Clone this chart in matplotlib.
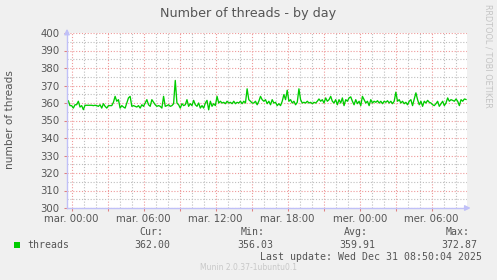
import numpy as np
import matplotlib
matplotlib.use("Agg")
import matplotlib.pyplot as plt
from matplotlib.ticker import MultipleLocator, FixedLocator

# ---- data ----
values = [
    359.6, 361.3, 358.5, 358.5, 357.1, 359.0, 359.0, 361.0, 357.7, 358.5,
    356.2, 358.7, 358.7, 358.7, 358.7, 358.7, 358.5, 358.7, 358.5, 358.1,
    359.0, 357.1, 359.6, 358.1, 357.1, 358.5, 358.5, 358.5, 360.4, 363.8,
    361.0, 361.9, 357.1, 358.5, 357.7, 357.1, 360.0, 362.9, 363.8, 358.1,
    358.5, 358.1, 357.7, 358.5, 357.1, 359.0, 358.1, 360.0, 361.9, 359.0,
    358.1, 361.9, 360.4, 359.0, 358.1, 358.5, 358.1, 357.1, 363.8, 358.1,
    358.5, 359.0, 358.1, 358.5, 359.6, 372.9, 360.0, 359.0, 357.1, 359.6,
    358.5, 359.0, 361.9, 358.1, 359.6, 358.5, 361.5, 359.0, 358.1, 360.0,
    357.1, 358.5, 357.1, 360.0, 361.5, 356.1, 361.0, 358.1, 359.6, 358.5,
    363.8, 360.0, 361.0, 360.0, 360.4, 359.6, 361.0, 360.0, 360.4, 359.6,
    361.0, 359.6, 360.4, 360.0, 361.0, 359.6, 361.0, 360.0, 368.1, 361.9,
    361.0,
    360.0, 360.0, 361.0, 359.0, 361.0, 363.8, 361.9, 361.0, 361.9, 359.6,
    361.0, 359.0, 361.9, 360.0, 360.4, 358.5, 359.6, 358.5, 361.0, 364.8,
    361.9, 367.3, 361.0, 361.9, 360.0, 361.0, 359.0, 360.4, 368.1, 361.9,
    360.0, 360.4, 360.0, 361.0, 360.0, 360.4, 359.6, 360.4, 360.0, 361.0,
    362.3, 361.0, 361.9, 360.0, 362.9, 361.0, 361.9, 363.8, 361.0, 360.0,
    361.9, 359.0, 361.9, 360.0, 362.9, 358.5, 361.9, 361.0, 362.9, 363.5,
    361.0, 359.0, 361.9, 359.6, 361.0, 358.5, 363.8, 361.9, 360.0, 361.0,
    358.5, 361.9, 360.0, 361.0, 360.4, 361.3, 360.0, 361.0, 359.6, 361.0,
    360.4, 361.3, 360.0, 361.0, 359.6, 361.0, 366.2, 361.0, 361.9, 360.0,
    361.0, 359.6, 360.4, 359.0, 361.0, 361.9, 358.5, 362.3, 365.8, 361.9,
    359.0, 361.0, 358.1, 361.0, 360.0, 361.5, 360.4, 360.0, 359.0, 358.5,
    359.6, 361.0, 358.1, 359.6, 361.0, 358.5, 360.0, 362.9, 361.0, 361.9,
    361.5, 361.0, 362.3, 361.0, 358.5, 361.9, 361.0, 362.3, 362.0,
]
t_start_h = -0.42   # hours relative to mar. 00:00
t_end_h = 32.86
x_ticks_h = [0, 3, 6, 9, 12, 15, 18, 21, 24, 27, 30]
x_tick_labels = ["mar. 00:00", "", "mar. 06:00", "", "mar. 12:00", "",
                 "mar. 18:00", "", "mer. 00:00", "", "mer. 06:00"]
y_ticks = [300, 310, 320, 330, 340, 350, 360, 370, 380, 390, 400]
legend_name = "threads"
stats_names = ["Cur:", "Min:", "Avg:", "Max:"]
stats_values = ["362.00", "356.03", "359.91", "372.87"]

hours = np.linspace(t_start_h, t_end_h, len(values))

W, H = 497, 280
fig = plt.figure(figsize=(W / 100, H / 100), dpi=100, facecolor="#F0F0F0")
L, R, T, B = 67, 467, 33, 208
ax = fig.add_axes([L / W, 1 - B / H, (R - L) / W, (B - T) / H])
ax.set_facecolor("white")
ax.set_xlim(-0.39, 32.94)
ax.set_ylim(300, 400)

# grids
ax.xaxis.set_major_locator(FixedLocator(x_ticks_h))
ax.xaxis.set_minor_locator(MultipleLocator(1))
ax.yaxis.set_major_locator(FixedLocator(y_ticks))
ax.yaxis.set_minor_locator(MultipleLocator(5))
ax.set_xticklabels(x_tick_labels)
ax.grid(which="minor", color="#BEBEBE", linestyle=(0, (1, 1.6)), linewidth=0.8)
ax.grid(which="major", color="#EE9999", linestyle=(0, (1, 1.6)), linewidth=0.8)
ax.set_axisbelow(True)

ax.plot(hours, values, color="#00CC00", linewidth=0.95, zorder=3)

for s in ["top", "right"]:
    ax.spines[s].set_visible(False)
for s in ["left", "bottom"]:
    ax.spines[s].set_color("#C0C0F8")
    ax.spines[s].set_linewidth(1.0)
    ax.spines[s].set_zorder(4)

# arrows at axis ends
ax.annotate("", xy=(1.016, 0), xytext=(0.99, 0), xycoords="axes fraction",
            arrowprops=dict(arrowstyle="-|>", color="#C0C0F8", lw=1.0,
                            mutation_scale=8), annotation_clip=False)
ax.annotate("", xy=(0, 1.04), xytext=(0, 0.99), xycoords="axes fraction",
            arrowprops=dict(arrowstyle="-|>", color="#C0C0F8", lw=1.0,
                            mutation_scale=8), annotation_clip=False)

ax.tick_params(which="major", axis="both", length=2.5, width=0.75,
               color="#E08080", labelcolor="#555555", labelsize=7.3, pad=2)
ax.tick_params(which="minor", length=0)
ax.tick_params(axis="y", pad=3)

fig.text(248 / W, 1 - 13 / H, "Number of threads - by day", ha="center",
         va="center", fontsize=9.2, color="#555555")
fig.text(10 / W, 1 - 120 / H, "number of threads", rotation=90, ha="center",
         va="center", fontsize=7.6, color="#555555")
fig.text(488 / W, 1 - 56 / H, "RRDTOOL / TOBI OETIKER", rotation=270,
         ha="center", va="center", fontsize=5.9, color="#C4C4C4")

mono = "DejaVu Sans Mono"
fs = 7.1
fig.patches.append(plt.Rectangle((14 / W, 1 - 248 / H), 6 / W, 6 / H,
                                 transform=fig.transFigure,
                                 facecolor="#00CC00", edgecolor="none"))
fig.text(27 / W, 1 - 245 / H, legend_name, ha="left", va="center",
         family=mono, fontsize=fs, color="#555555")
name_right = [163, 265, 368, 470]
val_right = [170, 273, 375, 477]
for n, v, nr, vr in zip(stats_names, stats_values, name_right, val_right):
    fig.text(nr / W, 1 - 232 / H, n, ha="right", va="center", family=mono,
             fontsize=fs, color="#555555")
    fig.text(vr / W, 1 - 245 / H, v, ha="right", va="center", family=mono,
             fontsize=fs, color="#555555")
fig.text(482 / W, 1 - 257 / H, "Last update: Wed Dec 31 08:50:04 2025",
         ha="right", va="center", family=mono, fontsize=fs, color="#555555")
fig.text(248 / W, 1 - 268 / H, "Munin 2.0.37-1ubuntu0.1", ha="center",
         va="center", fontsize=5.5, color="#C8C8C8")

fig.savefig("out.png", dpi=100, facecolor=fig.get_facecolor())
